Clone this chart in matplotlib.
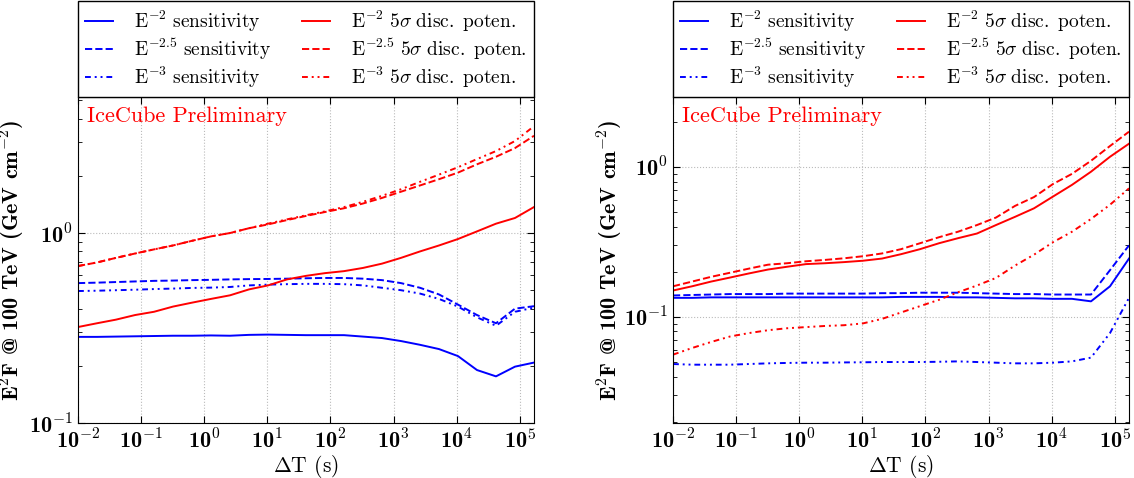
import numpy as np
import matplotlib
matplotlib.use('Agg')
import matplotlib.pyplot as plt
from matplotlib.ticker import FuncFormatter, LogLocator, NullFormatter

plt.rcParams['font.family'] = 'serif'
plt.rcParams['font.serif'] = ['cmr10']
plt.rcParams['mathtext.fontset'] = 'cm'
plt.rcParams['axes.unicode_minus'] = False

# time windows (s): 0.01 * 2**n
dt = [0.01 * 2 ** n for n in range(25)]

# left panel
left_sens2 = [0.284, 0.284, 0.285, 0.286, 0.287, 0.288, 0.288, 0.289, 0.288, 0.291,
              0.292, 0.291, 0.290, 0.290, 0.290, 0.285, 0.280, 0.270, 0.258, 0.245,
              0.225, 0.190, 0.176, 0.198, 0.208]
left_sens25 = [0.545, 0.548, 0.552, 0.556, 0.560, 0.562, 0.565, 0.567, 0.570, 0.572,
               0.573, 0.575, 0.578, 0.580, 0.580, 0.575, 0.565, 0.545, 0.515, 0.475,
               0.420, 0.370, 0.335, 0.400, 0.412]
left_sens3 = [0.495, 0.497, 0.500, 0.503, 0.507, 0.510, 0.514, 0.516, 0.520, 0.530,
              0.535, 0.538, 0.540, 0.540, 0.538, 0.530, 0.515, 0.500, 0.480, 0.450,
              0.410, 0.360, 0.325, 0.385, 0.405]
left_disc2 = [0.320, 0.335, 0.350, 0.370, 0.385, 0.410, 0.430, 0.450, 0.470, 0.505,
              0.530, 0.570, 0.595, 0.615, 0.630, 0.655, 0.690, 0.740, 0.800, 0.860,
              0.930, 1.020, 1.120, 1.200, 1.370]
left_disc25 = [0.67, 0.70, 0.74, 0.78, 0.82, 0.86, 0.91, 0.96, 1.00, 1.06,
               1.11, 1.17, 1.23, 1.29, 1.35, 1.43, 1.53, 1.65, 1.78, 1.92,
               2.08, 2.30, 2.52, 2.80, 3.25]
left_disc3 = [0.67, 0.70, 0.74, 0.78, 0.82, 0.86, 0.91, 0.96, 1.00, 1.06,
              1.12, 1.18, 1.24, 1.30, 1.37, 1.46, 1.57, 1.70, 1.86, 2.03,
              2.22, 2.45, 2.70, 3.05, 3.65]

# right panel
right_sens2 = [0.134, 0.134, 0.135, 0.135, 0.135, 0.135, 0.135, 0.135, 0.135, 0.135,
               0.135, 0.135, 0.136, 0.136, 0.136, 0.135, 0.135, 0.134, 0.133, 0.133,
               0.132, 0.132, 0.127, 0.160, 0.245]
right_sens25 = [0.139, 0.140, 0.141, 0.142, 0.142, 0.142, 0.143, 0.143, 0.143, 0.143,
                0.143, 0.144, 0.144, 0.145, 0.145, 0.145, 0.144, 0.143, 0.142, 0.142,
                0.141, 0.141, 0.141, 0.205, 0.300]
right_sens3 = [0.0485, 0.048, 0.048, 0.048, 0.0485, 0.049, 0.0493, 0.0495, 0.0495, 0.0497,
               0.0498, 0.050, 0.050, 0.050, 0.0502, 0.0505, 0.050, 0.0495, 0.049, 0.049,
               0.0495, 0.0505, 0.0535, 0.078, 0.134]
right_disc2 = [0.150, 0.160, 0.172, 0.183, 0.195, 0.207, 0.216, 0.225, 0.228, 0.232,
               0.237, 0.245, 0.262, 0.283, 0.310, 0.335, 0.360, 0.410, 0.465, 0.530,
               0.635, 0.760, 0.930, 1.170, 1.430]
right_disc25 = [0.160, 0.172, 0.185, 0.197, 0.210, 0.223, 0.228, 0.235, 0.240, 0.246,
                0.254, 0.265, 0.283, 0.310, 0.340, 0.370, 0.410, 0.460, 0.550, 0.630,
                0.770, 0.900, 1.100, 1.380, 1.720]
right_disc3 = [0.056, 0.062, 0.068, 0.074, 0.078, 0.0815, 0.084, 0.0855, 0.087, 0.088,
               0.0905, 0.097, 0.107, 0.118, 0.130, 0.146, 0.162, 0.182, 0.220, 0.260,
               0.315, 0.370, 0.450, 0.560, 0.720]

labels = [r'$\mathrm{E^{-2}\ sensitivity}$', r'$\mathrm{E^{-2.5}\ sensitivity}$',
          r'$\mathrm{E^{-3}\ sensitivity}$',
          r'$\mathrm{E^{-2}\ 5}\sigma\mathrm{\ disc.\ poten.}$',
          r'$\mathrm{E^{-2.5}\ 5}\sigma\mathrm{\ disc.\ poten.}$',
          r'$\mathrm{E^{-3}\ 5}\sigma\mathrm{\ disc.\ poten.}$']

dashdotdot = (0, (3, 2, 1, 2, 1, 2))
styles = ['-', '--', dashdotdot]


def bold_pow(v, pos):
    e = int(round(np.log10(v)))
    return r'10$^{\mathbf{%d}}$' % e


def draw_panel(ax, sens, disc, ylim, ylab_x):
    for s, y, lab in zip(styles, sens, labels[:3]):
        ax.plot(dt, y, color='blue', ls=s, lw=1.4, label=lab)
    for s, y, lab in zip(styles, disc, labels[3:]):
        ax.plot(dt, y, color='red', ls=s, lw=1.4, label=lab)
    ax.set_xscale('log')
    ax.set_yscale('log')
    ax.set_xlim(0.01, dt[-1])
    ax.set_ylim(*ylim)
    ax.xaxis.set_major_locator(LogLocator(base=10, numticks=20))
    ax.yaxis.set_major_locator(LogLocator(base=10, numticks=20))
    ax.xaxis.set_major_formatter(FuncFormatter(bold_pow))
    ax.yaxis.set_major_formatter(FuncFormatter(bold_pow))
    ax.xaxis.set_minor_formatter(NullFormatter())
    ax.yaxis.set_minor_formatter(NullFormatter())
    ax.tick_params(which='both', direction='in', top=True, right=True,
                   labelsize=16, labelfontfamily='cmb10')
    ax.tick_params(which='major', length=5)
    ax.tick_params(axis='y', which='major', pad=4)
    ax.tick_params(axis='x', which='major', pad=4)
    ax.tick_params(which='minor', length=3)
    ax.grid(True, which='major', ls=':', color='#bbbbbb', lw=0.8)
    ax.set_xlabel(r'$\Delta$T (s)', fontsize=15.5, labelpad=0)
    ax.set_ylabel(r'E$^{\mathbf{2}}$F @ 100 TeV (GeV cm$^{\mathbf{-2}}$)',
                  fontsize=16, family='cmb10')
    ax.yaxis.set_label_coords(ylab_x, 0.5)
    ax.text(0.02, 0.97, 'IceCube Preliminary', color='red', fontsize=16,
            transform=ax.transAxes, va='top', ha='left')
    ax.legend(loc='lower left', bbox_to_anchor=(0, 1, 1, 0.29), mode='expand',
              ncol=2, borderaxespad=0, fancybox=False, edgecolor='black',
              fontsize=14, handlelength=1.45, handletextpad=1.1, labelspacing=0.15,
              borderpad=0.35, columnspacing=1.0, framealpha=1)


fig = plt.figure(figsize=(11.34, 4.78), dpi=100)
ax1 = fig.add_axes([78 / 1134, 55 / 478, 456 / 1134, 326 / 478])
ax2 = fig.add_axes([673 / 1134, 55 / 478, 456 / 1134, 326 / 478])

draw_panel(ax1, [left_sens2, left_sens25, left_sens3],
           [left_disc2, left_disc25, left_disc3], (0.1, 5.2), -0.112)
draw_panel(ax2, [right_sens2, right_sens25, right_sens3],
           [right_disc2, right_disc25, right_disc3], (0.0196, 2.93), -0.106)

fig.savefig('out.png', dpi=100)
